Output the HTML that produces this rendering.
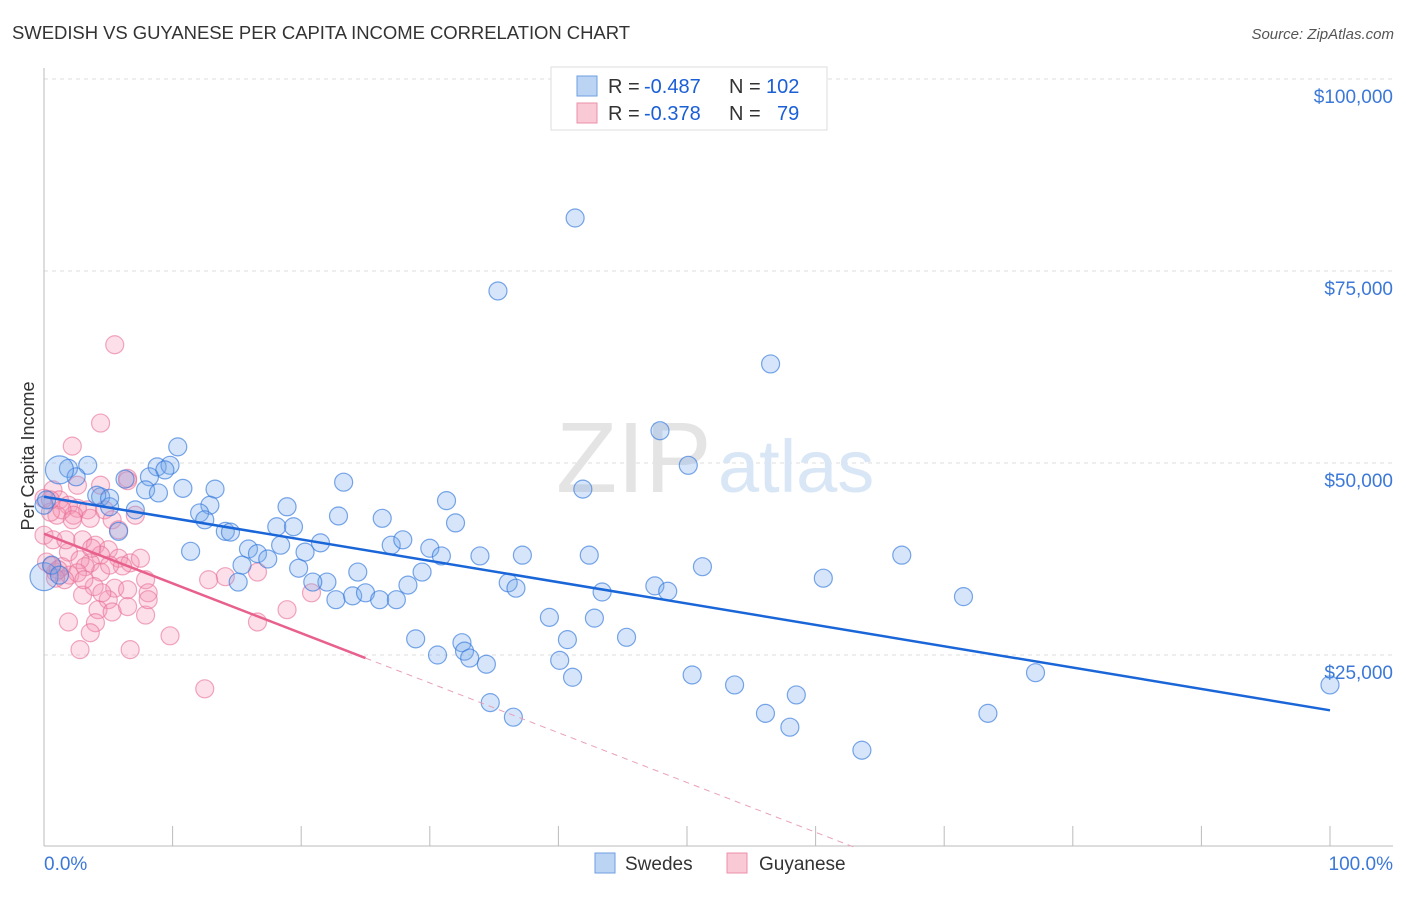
<!DOCTYPE html>
<html><head><meta charset="utf-8"><style>
body{margin:0;background:#fff;font-family:"Liberation Sans",sans-serif}
svg text{font-family:"Liberation Sans",sans-serif}
</style></head><body>
<svg width="1406" height="892" xmlns="http://www.w3.org/2000/svg">
<text x="12" y="39" font-size="18.5" fill="#333" textLength="618">SWEDISH VS GUYANESE PER CAPITA INCOME CORRELATION CHART</text>
<text x="1394" y="39" font-size="15" fill="#555" text-anchor="end" font-style="italic">Source: ZipAtlas.com</text>
<g id="grid"></g>
<text x="556" y="492" font-size="100" fill="#e4e4e4" font-family="Liberation Serif">ZIP</text>
<text x="718" y="492" font-size="74" fill="#d8e6f6">atlas</text>
<g id="axes"></g>
<g id="marks"></g>
<g id="trend"></g>
<text transform="translate(34,456) rotate(-90)" font-size="18" fill="#333" text-anchor="middle">Per Capita Income</text>
<g>
<rect x="551" y="67" width="276" height="63" fill="#fff" stroke="#ddd"/>
<rect x="577" y="76" width="20" height="20" fill="#bcd4f4" stroke="#6d9ee0"/>
<rect x="577" y="103" width="20" height="20" fill="#f9c9d6" stroke="#ec8fab"/>
<text x="608" y="93" font-size="20" fill="#333">R =</text>
<text x="644" y="93" font-size="20" fill="#1a5fd6">-0.487</text>
<text x="729" y="93" font-size="20" fill="#333">N =</text>
<text x="766" y="93" font-size="20" fill="#1a5fd6">102</text>
<text x="608" y="120" font-size="20" fill="#333">R =</text>
<text x="644" y="120" font-size="20" fill="#1a5fd6">-0.378</text>
<text x="729" y="120" font-size="20" fill="#333">N =</text>
<text x="777" y="120" font-size="20" fill="#1a5fd6">79</text>
</g>
<g>
<rect x="595" y="853" width="20" height="20" fill="#bcd4f4" stroke="#6d9ee0"/>
<text x="625" y="870" font-size="19" fill="#333">Swedes</text>
<rect x="727" y="853" width="20" height="20" fill="#f9c9d6" stroke="#ec8fab"/>
<text x="759" y="870" font-size="19" fill="#333">Guyanese</text>
</g>
</svg>
<script>
const yTicks=[25000,50000,75000,100000];
const yTickLabels=["$25,000","$50,000","$75,000","$100,000"];
const xTickLabels=["0.0%","100.0%"];
const swedesX=[41.3,35.3,56.5,47.9,50.1,41.9,10.4,3.4,1.9,8.8,9.8,9.4,8.2,6.3,2.5,4.4,4.1,5.1,7.1,7.9,10.8,13.3,12.9,12.1,12.5,14.1,14.5,5.8,11.4,23.3,18.9,22.9,26.3,31.3,32.0,18.1,19.4,21.5,20.3,15.9,16.6,17.4,18.4,27.0,27.9,30.0,30.9,19.8,24.4,29.4,33.9,37.2,42.4,51.2,66.7,60.6,71.5,22.0,20.9,22.7,24.0,25.0,26.1,27.4,28.3,36.1,36.7,43.4,47.5,48.5,15.4,15.1,39.3,42.8,40.7,45.3,28.9,32.5,32.7,30.6,33.1,34.4,40.1,41.1,50.4,53.7,58.5,77.1,100.0,56.1,58.0,73.4,63.6,34.7,36.5,0.0,0.6,1.2,0.0,0.2,1.2,5.1,8.9];
const swedesY=[81.9,72.4,62.9,54.2,49.7,46.6,52.1,49.7,49.3,49.5,49.7,49.1,48.2,47.9,48.2,45.6,45.8,44.3,43.9,46.5,46.7,46.6,44.5,43.5,42.6,41.1,41.0,41.1,38.5,47.5,44.3,43.1,42.8,45.1,42.2,41.7,41.7,39.6,38.4,38.8,38.2,37.5,39.3,39.3,40.0,38.9,37.9,36.3,35.8,35.8,37.9,38.0,38.0,36.5,38.0,35.0,32.6,34.5,34.5,32.2,32.7,33.1,32.2,32.2,34.1,34.4,33.7,33.2,34.0,33.3,36.7,34.5,29.9,29.8,27.0,27.3,27.1,26.6,25.5,25.0,24.6,23.8,24.3,22.1,22.4,21.1,19.8,22.7,21.1,17.4,15.6,17.4,12.6,18.8,16.9,35.2,36.7,35.4,44.5,45.2,49.1,45.4,46.1];
const guyX=[5.5,4.4,2.2,6.5,6.5,4.4,2.6,0.7,0,1.2,1.9,2.6,3.4,2.3,4.7,1.0,1.4,0.5,3.6,7.1,0,0.7,3.0,4.0,5.0,1.9,4.4,5.8,6.7,3.6,2.8,1.4,0.9,2.0,4.4,6.1,5.1,3.2,2.6,1.6,3.9,5.5,6.5,7.9,8.1,5.0,3.0,4.2,5.3,6.5,7.9,4.0,1.9,3.6,2.8,6.7,9.8,12.5,14.1,12.8,16.6,18.9,20.8,16.6,0.2,0.6,1.1,0.9,5.3,7.5,8.1,2.2,0.5,3.7,5.8,4.5,3.1,1.7];
const guyY=[65.4,55.2,52.2,48.0,47.7,47.1,47.1,46.5,45.4,45.2,44.5,44.1,43.9,43.2,43.9,43.2,43.9,43.6,42.8,43.2,40.6,40.0,40.0,39.3,38.7,38.4,38.0,37.6,37.0,37.0,37.4,36.5,35.8,35.4,35.8,36.6,36.7,36.5,35.7,34.8,33.9,33.7,33.5,34.8,33.1,32.2,32.8,30.9,30.6,31.3,30.2,29.2,29.3,27.9,25.7,25.7,27.5,20.6,35.2,34.8,35.8,30.9,33.1,29.3,37.1,36.6,36.1,35.0,42.6,37.6,32.2,42.6,45.2,38.9,41.3,33.1,34.8,40.0];
const swedesTrend=[45.6,17.8];
const guyTrend=[40.8,24.6];
const NS="http://www.w3.org/2000/svg";
const X0=44,X1=1330,Y0=847,PPK=7.68;
function sx(p){return X0+(X1-X0)*p/100;}
function sy(k){return Y0-k*PPK;}
function mk(t,a,parent){const e=document.createElementNS(NS,t);for(const k in a)e.setAttribute(k,a[k]);parent.appendChild(e);return e;}
const grid=document.getElementById('grid'),axes=document.getElementById('axes'),marks=document.getElementById('marks'),trend=document.getElementById('trend');
yTicks.forEach((v,i)=>{
 const g=mk('line',{x1:X0,x2:1393,y1:sy(v/1000),y2:sy(v/1000),stroke:'#ddd','stroke-dasharray':'4,4'},grid);
 
 
 const t=mk('text',{x:1393,y:sy(v/1000)+24,'font-size':19,fill:'#3b78d8','text-anchor':'end'},axes);
 t.textContent=yTickLabels[i];
 
 
});
mk('line',{x1:X0,x2:1393,y1:79,y2:79,stroke:'#ddd','stroke-dasharray':'4,4'},grid);
mk('line',{x1:X0,x2:X0,y1:68,y2:846,stroke:'#bbb'},axes);
mk('line',{x1:X0,x2:1393,y1:846,y2:846,stroke:'#bbb'},axes);
for(let i=0;i<=10;i++){const l=mk('line',{x1:sx(i*10),x2:sx(i*10),y1:826,y2:846,stroke:'#bbb'},axes);
 
 }
[[0,'start',44],[1,'end',1393]].forEach(([i,a,x])=>{const t=mk('text',{x:x,y:870,'font-size':19,fill:'#3b78d8','text-anchor':a},axes);t.textContent=xTickLabels[i];
 
 });
guyX.forEach((x,i)=>{const c=mk('circle',{cx:sx(x),cy:sy(guyY[i]),r:9,fill:'rgba(244,150,180,0.3)',stroke:'rgba(232,110,150,0.6)','stroke-width':1.2},marks);
 
 });
swedesX.forEach((x,i)=>{const big=(i===95||i===100);const c=mk('circle',{cx:sx(x),cy:sy(swedesY[i]),r:big?14:9,fill:'rgba(120,170,235,0.3)',stroke:'rgba(50,120,220,0.65)','stroke-width':1.2},marks);
 
 });
const bl=mk('line',{x1:sx(0),y1:sy(swedesTrend[0]),x2:sx(100),y2:sy(swedesTrend[1]),stroke:'#1a66d8','stroke-width':2.5},trend);


const slope=(guyTrend[1]-guyTrend[0])/25, xEnd=-guyTrend[0]/slope;
const pl=mk('line',{x1:sx(0),y1:sy(guyTrend[0]),x2:sx(25),y2:sy(guyTrend[1]),stroke:'#e8608c','stroke-width':2.5},trend);


const pd=mk('line',{x1:sx(25),y1:sy(guyTrend[1]),x2:sx(xEnd),y2:sy(0),stroke:'#e8a0b8','stroke-width':1,'stroke-dasharray':'6,5'},trend);


</script>
</body></html>
